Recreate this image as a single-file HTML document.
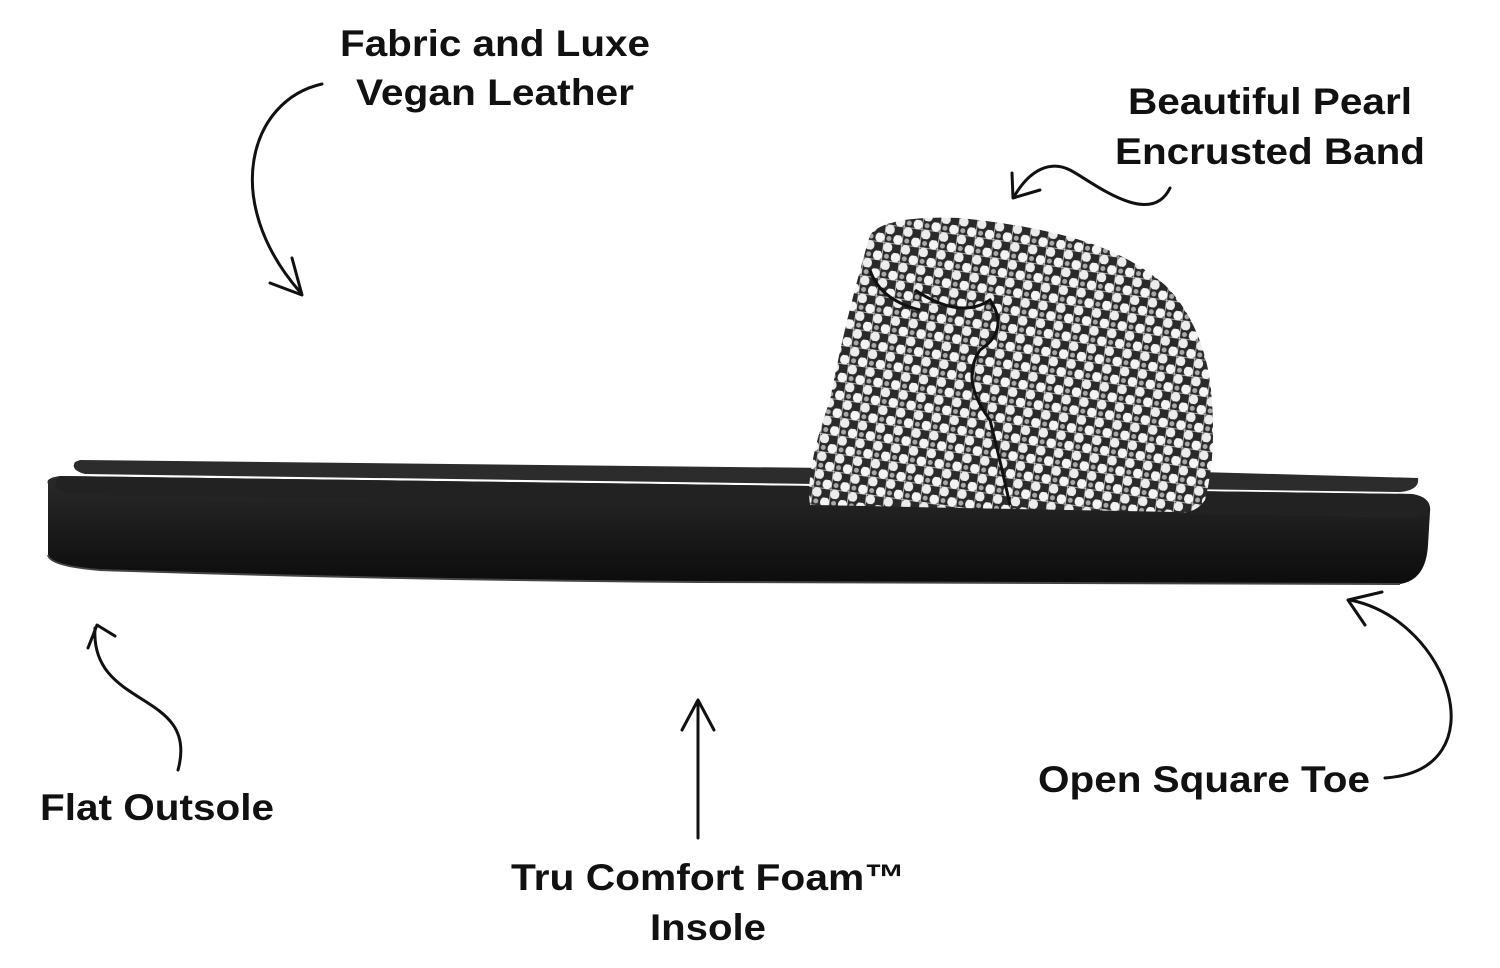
<!DOCTYPE html>
<html><head><meta charset="utf-8"><style>
html,body{margin:0;padding:0;background:#fff;}
svg{display:block}
text{font-family:"Liberation Sans",sans-serif;font-weight:bold;font-size:37px;fill:#111}
</style></head><body>
<svg width="1500" height="968" viewBox="0 0 1500 968" xmlns="http://www.w3.org/2000/svg">
<defs>
<pattern id="pearl" width="18" height="18" patternUnits="userSpaceOnUse" patternTransform="rotate(8)">
<rect width="18" height="18" fill="#2a2a2a"/>
<path d="M0 9H18M9 0V18" stroke="#ccc" stroke-width="0.8"/>
<ellipse cx="4.5" cy="4.5" rx="4.6" ry="5" fill="#f4f4f4"/>
<ellipse cx="13.5" cy="13.5" rx="4.6" ry="5" fill="#ececec"/>
<ellipse cx="13.5" cy="4.5" rx="2.5" ry="2.5" fill="#aaa"/>
</pattern>
<linearGradient id="sole" x1="0" y1="0" x2="0" y2="1">
<stop offset="0" stop-color="#2a2a2a"/><stop offset="1" stop-color="#0c0c0c"/></linearGradient>
</defs>
<g fill="none" stroke="#111" stroke-width="3" stroke-linecap="round" stroke-linejoin="round">
<path d="M322 84 C250 100 220 200 300 292"/>
<path d="M270 283 L302 295 L292 258"/>
<path d="M1170 188 C1150 230 1090 180 1070 170 C1050 160 1030 170 1015 195"/>
<path d="M1012 173 L1013 198 L1040 190"/>
<path d="M178 770 C200 690 90 710 95 628"/>
<path d="M88 648 L97 625 L115 636"/>
<path d="M698 838 L698 703"/>
<path d="M682 730 L698 700 L714 730"/>
<path d="M1385 778 C1500 770 1450 620 1350 600"/>
<path d="M1365 625 L1348 600 L1382 592"/>
</g>
<path d="M48 484 Q45 478 60 476 L1412 494 Q1432 497 1430 512 L1428 545 Q1426 580 1400 584 L700 582 Q400 580 100 570 Q50 566 48 555 Z" fill="url(#sole)"/>
<path d="M60 476 L1412 494 Q1430 497 1428 510 L1412 518 L760 505 Q400 500 70 494 Q48 490 60 476Z" fill="#222"/>
<path d="M75 462 Q70 470 85 474 L1400 492 Q1420 490 1418 478 L1200 472 L80 460 Z" fill="#2c2c2c"/>
<path d="M48 555 Q50 566 100 570 Q400 580 700 582 L1400 584" stroke="#444" stroke-width="2" fill="none"/>
<path d="M870 235 Q885 215 960 218 Q1030 225 1080 240 Q1130 255 1165 285 Q1200 320 1210 380 Q1218 450 1205 500 Q1195 515 1175 512 L960 508 Q870 506 810 505 Q805 470 830 400 Q845 320 870 235Z" fill="url(#pearl)"/>
<path d="M870 270 Q880 300 920 310 M915 290 Q960 320 990 300 Q1010 330 980 350 Q960 380 990 420 Q1000 460 1010 505" stroke="#111" stroke-width="3" fill="none"/>
<text x="495" y="56" text-anchor="middle" textLength="310" lengthAdjust="spacingAndGlyphs">Fabric and Luxe</text>
<text x="495" y="105" text-anchor="middle" textLength="278" lengthAdjust="spacingAndGlyphs">Vegan Leather</text>
<text x="1270" y="114" text-anchor="middle" textLength="284" lengthAdjust="spacingAndGlyphs">Beautiful Pearl</text>
<text x="1270" y="164" text-anchor="middle" textLength="310" lengthAdjust="spacingAndGlyphs">Encrusted Band</text>
<text x="40" y="820" textLength="234" lengthAdjust="spacingAndGlyphs">Flat Outsole</text>
<text x="708" y="890" text-anchor="middle" textLength="394" lengthAdjust="spacingAndGlyphs">Tru Comfort Foam™</text>
<text x="708" y="940" text-anchor="middle" textLength="116" lengthAdjust="spacingAndGlyphs">Insole</text>
<text x="1038" y="792" textLength="332" lengthAdjust="spacingAndGlyphs">Open Square Toe</text>
</svg>
</body></html>
